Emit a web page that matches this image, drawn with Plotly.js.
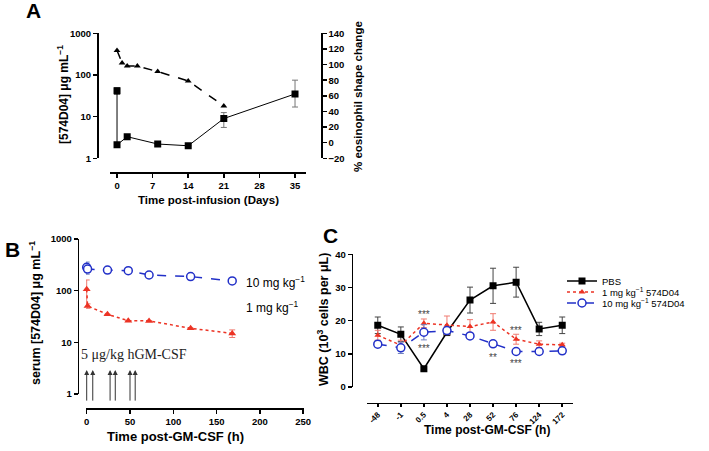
<!DOCTYPE html>
<html>
<head>
<meta charset="utf-8">
<script src="https://cdn.plot.ly/plotly-3.0.1.min.js"></script>
<style>
	html, body { margin: 0; padding: 0; background: #fff; }
	#chart { width: 709px; height: 451px; }
</style>
</head>
<body>
<div id="chart"></div>
<script>

	// --- Panel A: infusion study ---
	const infusionDays = [ 0, 0, 2, 8, 14, 21, 35 ];
	const drugConc = [ 42, 2.1, 3.3, 2.2, 2.0, 9.0, 35 ];
	const drugConcErrUp = [ 8, 0, 0, 0, 0, 3.5, 40 ];
	const drugConcErrDown = [ 8, 0, 0, 0, 0, 3.5, 18 ];
	const shapeDays = [ 0, 1, 2, 4, 8, 14, 21 ];
	const shapeChange = [ 118, 102, 98, 98, 91, 79, 47 ];

	// --- Panel B: serum levels after GM-CSF ---
	const pkHours = [ 0, 1, 24, 48, 72, 120, 168 ];
	const pkHigh = [ 283, 262, 251, 244, 201, 187, 154 ];
	const pkHighErr = [ 75, 0, 0, 0, 0, 0, 8 ];
	const pkLow = [ 106, 50.5, 34.8, 26.3, 26, 18.7, 14.9 ];
	const pkLowErr = [ 55, 5, 0, 0, 0, 0, 2.5 ];
	const gmcsfDoses = [ 0, 7, 27, 33, 50, 56 ];
	const arrowTip = 2.9;

	// --- Panel C: white blood cells ---
	const wbcTimes = [ '-48', '-1', '0.5', '4', '28', '52', '76', '124', '172' ];
	const pbsWbc = [ 18.6, 15.9, 5.5, 16.5, 26.2, 30.5, 31.6, 17.5, 18.6 ];
	const pbsErr = [ 2.5, 2.2, 0.5, 1, 3.9, 5.3, 4.5, 2, 2.5 ];
	const lowWbc = [ 15.6, 12.6, 19.2, 18.6, 18.2, 19.6, 14.4, 12.9, 12.7 ];
	const lowErr = [ 1.5, 1.5, 1.3, 2.8, 2.1, 2.5, 1.5, 1, 0.5 ];
	const highWbc = [ 12.9, 11.8, 16.5, 17.0, 15.4, 13.0, 10.7, 10.7, 10.9 ];
	const highErr = [ 1, 1.7, 2.3, 1, 0.8, 0.5, 0.5, 0.5, 0.8 ];
	const starTimes = [ '0.5', '0.5', '52', '76', '76' ];
	const starLevels = [ 22.9, 12.4, 9.9, 18, 7.9 ];
	const starText = [ '***', '***', '**', '***', '***' ];

	const W = 709, H = 451;
	const FONT = 'Liberation Sans, Arial, sans-serif';
	const RED = '#ec3324';
	const BLUE = '#2230c8';

	// pixel -> paper
	const px = ( x ) => x / W;
	const py = ( y ) => 1 - y / H;

	/**
	* GraphPad-ish axis
	*/
	const axis = ( opts ) => Object.assign({
		showgrid: false,
		zeroline: false,
		showline: true,
		linecolor: '#000',
		linewidth: 1.5,
		ticks: 'outside',
		ticklen: 4,
		tickwidth: 1.5,
		tickcolor: '#000',
		tickfont: { family: FONT, size: 9.5, color: '#000', weight: 700 },
		fixedrange: true,
	}, opts );

	const errBar = ( arr, color, minus ) => ({
		type: 'data',
		array: arr,
		arrayminus: minus || arr,
		symmetric: !minus,
		color: color,
		thickness: 1,
		width: 3,
	});

	const label = ( text, x, y, size, opts = {} ) => Object.assign({
		text: text,
		xref: 'paper', yref: 'paper',
		x: px( x ), y: py( y ),
		xanchor: 'center', yanchor: 'middle',
		showarrow: false,
		font: { family: FONT, size: size, color: '#000', weight: 700 },
	}, opts );

	// one small legend per entry so the rows can sit close together
	const legendAt = ( y ) => ({
		x: px( 562 ), y: py( y ),
		xanchor: 'left', yanchor: 'middle',
		bgcolor: 'rgba(0,0,0,0)',
		font: { family: FONT, size: 9.5, color: '#000' },
		itemwidth: 30,
	});

	const data = [
		// A
		{
			x: infusionDays, y: drugConc,
			xaxis: 'x', yaxis: 'y',
			type: 'scatter', mode: 'lines+markers',
			line: { color: '#000', width: 1 },
			marker: { symbol: 'square', size: 7, color: '#000' },
			error_y: errBar( drugConcErrUp, '#777', drugConcErrDown ),
			showlegend: false,
		},
		{
			x: shapeDays, y: shapeChange,
			xaxis: 'x', yaxis: 'y2',
			type: 'scatter', mode: 'lines+markers',
			line: { color: '#000', width: 1.5, dash: 'dash' },
			marker: { symbol: 'triangle-up', size: 6, color: '#000' },
			showlegend: false,
		},
		// B
		{
			x: pkHours, y: pkHigh,
			xaxis: 'x2', yaxis: 'y3',
			type: 'scatter', mode: 'lines+markers',
			line: { color: BLUE, width: 1.5, dash: 'dash' },
			marker: { symbol: 'circle', size: 8, color: '#fff', line: { color: BLUE, width: 1.5 } },
			error_y: errBar( pkHighErr, '#7080c0' ),
			cliponaxis: false,
			showlegend: false,
		},
		{
			x: pkHours, y: pkLow,
			xaxis: 'x2', yaxis: 'y3',
			type: 'scatter', mode: 'lines+markers',
			line: { color: RED, width: 1.5, dash: 'dot' },
			marker: { symbol: 'triangle-up', size: 7, color: RED },
			error_y: errBar( pkLowErr, '#f07a70' ),
			cliponaxis: false,
			showlegend: false,
		},
		// C
		{
			x: wbcTimes, y: pbsWbc, name: 'PBS',
			xaxis: 'x3', yaxis: 'y4', legend: 'legend',
			type: 'scatter', mode: 'lines+markers',
			line: { color: '#000', width: 1.5 },
			marker: { symbol: 'square', size: 7, color: '#000' },
			error_y: errBar( pbsErr, '#444' ),
		},
		{
			x: wbcTimes, y: lowWbc, name: '1 mg kg<sup>−1</sup> 574D04',
			xaxis: 'x3', yaxis: 'y4', legend: 'legend2',
			type: 'scatter', mode: 'lines+markers',
			line: { color: RED, width: 1.5, dash: 'dot' },
			marker: { symbol: 'triangle-up', size: 6, color: RED },
			error_y: errBar( lowErr, '#f07a70' ),
		},
		{
			x: wbcTimes, y: highWbc, name: '10 mg kg<sup>−1</sup> 574D04',
			xaxis: 'x3', yaxis: 'y4', legend: 'legend3',
			type: 'scatter', mode: 'lines+markers',
			line: { color: BLUE, width: 1.5, dash: 'dash' },
			marker: { symbol: 'circle', size: 8, color: '#fff', line: { color: BLUE, width: 1.5 } },
			error_y: errBar( highErr, '#7080c0' ),
		},
	];

	const annotations = [
		label( 'A', 33.5, 10.5, 21 ),
		label( 'B', 12.5, 249, 21 ),
		label( 'C', 330, 235.5, 21 ),

		label( '[574D04] μg mL<sup>−1</sup>', 63, 95, 12, { textangle: -90 } ),
		label( '% eosinophil shape change', 358, 97, 11.5, { textangle: -90 } ),
		label( 'Time post-infusion (Days)', 208, 200, 11.5 ),

		label( 'serum [574D04] μg mL<sup>−1</sup>', 35, 313, 12.5, { textangle: -90 } ),
		label( 'Time post-GM-CSF (h)', 175, 436, 13 ),
		label( '10 mg kg<sup>−1</sup>', 244, 282, 12, { xanchor: 'left', font: { family: FONT, size: 12, color: '#000' } } ),
		label( '1 mg kg<sup>−1</sup>', 244, 307, 12, { xanchor: 'left', font: { family: FONT, size: 12, color: '#000' } } ),
		label( '5 μg/kg hGM-CSF', 79, 354, 14, { xanchor: 'left', font: { family: 'Liberation Serif, Times New Roman, serif', size: 14, color: '#222' } } ),

		label( 'WBC (10<sup>3</sup> cells per μL)', 323, 320, 12.5, { textangle: -90 } ),
		label( 'Time post-GM-CSF (h)', 487, 430, 12 ),
	];

	// GM-CSF dosing arrows (panel B)
	gmcsfDoses.forEach(( t ) => {
		annotations.push({
			xref: 'x2', yref: 'y3',
			x: t, y: Math.log10( arrowTip ),
			ax: 0, ay: 32,
			text: '',
			showarrow: true,
			arrowhead: 2, arrowsize: 1, arrowwidth: 1, arrowcolor: '#333',
		});
	});

	// significance stars (panel C)
	starTimes.forEach(( t, i ) => {
		annotations.push({
			xref: 'x3', yref: 'y4',
			x: wbcTimes.indexOf( t ), y: starLevels[i],
			yshift: -3,
			text: starText[i],
			showarrow: false,
			font: { family: FONT, size: 10, color: '#444' },
		});
	});

	const layout = {
		width: W, height: H,
		margin: { l: 0, r: 0, t: 0, b: 0 },
		paper_bgcolor: '#fff',
		plot_bgcolor: 'rgba(0,0,0,0)',
		font: { family: FONT, color: '#000' },

		// A
		xaxis: axis({
			domain: [ px( 110 ), px( 306 ) ],
			range: [ -1.38, 37.16 ],
			anchor: 'free', position: py( 172 ),
			tickvals: [ 0, 7, 14, 21, 28, 35 ],
		}),
		yaxis: axis({
			type: 'log',
			domain: [ py( 158.3 ), py( 33.3 ) ],
			range: [ 0, 3 ],
			anchor: 'free', position: px( 97 ),
			tickvals: [ 1, 10, 100, 1000 ],
			ticktext: [ '1', '10', '100', '1000' ],
		}),
		yaxis2: axis({
			overlaying: 'y', side: 'right',
			range: [ -20, 140 ],
			anchor: 'free', position: px( 321 ),
			dtick: 20,
		}),

		// B
		xaxis2: axis({
			domain: [ px( 86 ), px( 304 ) ],
			range: [ -0.8, 250.9 ],
			anchor: 'free', position: py( 408 ),
			tickvals: [ 0, 50, 100, 150, 200, 250 ],
		}),
		yaxis3: axis({
			type: 'log',
			domain: [ py( 394 ), py( 239 ) ],
			range: [ 0, 3 ],
			anchor: 'free', position: px( 77.7 ),
			tickvals: [ 1, 10, 100, 1000 ],
			ticktext: [ '1', '10', '100', '1000' ],
		}),

		// C
		xaxis3: axis({
			type: 'category',
			categoryorder: 'array', categoryarray: wbcTimes,
			domain: [ px( 366.7 ), px( 573.3 ) ],
			range: [ -0.48, 8.48 ],
			anchor: 'free', position: py( 402.5 ),
			tickangle: -45,
			ticklen: 3,
			tickfont: { family: FONT, size: 8, color: '#000', weight: 700 },
		}),
		yaxis4: axis({
			domain: [ py( 387 ), py( 254.3 ) ],
			range: [ 0, 40 ],
			anchor: 'free', position: px( 351.7 ),
			dtick: 10,
		}),

		showlegend: true,
		legend: legendAt( 281 ),
		legend2: legendAt( 292 ),
		legend3: legendAt( 303 ),
		annotations: annotations,
	};

	Plotly.newPlot( 'chart', data, layout, { displayModeBar: false, staticPlot: true } );

</script>
</body>
</html>
